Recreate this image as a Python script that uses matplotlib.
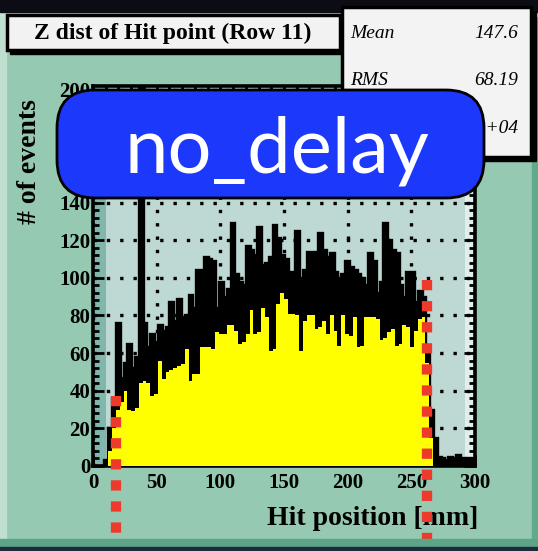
import matplotlib
matplotlib.use('Agg')
import matplotlib.pyplot as plt
import numpy as np
from matplotlib.patches import Rectangle, FancyBboxPatch

# 3 mm bins from 0 to 300 mm
bin_edges = np.linspace(0, 300, 101)

all_hits = [0, 0, 0, 3, 20, 36, 76, 47, 55, 65,
            52, 58, 300, 76, 63, 70, 66, 75, 72, 74,
            87, 77, 89, 79, 80, 91, 84, 104, 104, 111,
            110, 109, 84, 98, 90, 94, 129, 102, 98, 96,
            117, 115, 112, 127, 107, 108, 111, 128, 121, 112,
            110, 103, 100, 125, 100, 104, 114, 114, 110, 124,
            115, 111, 113, 103, 100, 102, 109, 106, 104, 102,
            100, 96, 113, 109, 92, 98, 129, 120, 115, 113,
            96, 90, 103, 103, 87, 93, 90, 62, 30, 15,
            5, 4, 3, 5, 4, 6, 4, 3, 4, 3]

selected_hits = [0, 0, 0, 0, 8, 20, 30, 34, 40, 30,
                 29, 31, 44, 45, 44, 37, 38, 56, 46, 50,
                 51, 52, 53, 54, 62, 45, 49, 49, 63, 63,
                 63, 62, 71, 70, 70, 75, 75, 72, 65, 66,
                 70, 83, 70, 71, 84, 79, 61, 62, 86, 92,
                 89, 81, 81, 80, 61, 77, 80, 80, 73, 74,
                 77, 70, 80, 72, 64, 80, 70, 69, 79, 63,
                 64, 79, 79, 79, 78, 67, 68, 71, 73, 64,
                 65, 75, 74, 63, 72, 78, 79, 55, 15, 0,
                 0, 0, 0, 0, 0, 0, 0, 0, 0, 0]

x_ticks = [0, 50, 100, 150, 200, 250, 300]
y_ticks = [0, 20, 40, 60, 80, 100, 120, 140, 160, 180, 200]

cut_positions = [18, 262.5]
cut_tops = [37, 99]

stats_names = ['Mean', 'RMS', 'Entries']
stats_values = ['147.6', '68.19', '1.803e+04']

title = 'Z dist of Hit point (Row 11)'
label_text = 'no_delay'

serif = 'Liberation Serif'

fig = plt.figure(figsize=(5.38, 5.51), dpi=100, facecolor='#95c9b1')
inch = fig.dpi_scale_trans

# pad bevel of the canvas
fig.patches.append(Rectangle((0, 0), 0.06, 5.51, transform=inch, color='#bfe0d0', zorder=0))
fig.patches.append(Rectangle((5.32, 0), 0.06, 5.51, transform=inch, color='#62aa8c', zorder=0))
fig.patches.append(Rectangle((0, 0.04), 5.38, 0.08, transform=inch, color='#5ea587', zorder=0))
fig.patches.append(Rectangle((0, 0), 5.38, 0.04, transform=inch, color='#1e2b3a', zorder=0))
fig.patches.append(Rectangle((0, 5.35), 5.38, 0.04, transform=inch, color='#c3e2d3', zorder=0))
fig.patches.append(Rectangle((0, 5.39), 5.38, 0.12, transform=inch, color='#0c0d14', zorder=0))

ax = fig.add_axes([0.1729, 0.1543, 0.710, 0.6897])
ax.set_facecolor('#bed8d4')

# frame bevel
ax.add_patch(Rectangle((0, 0), 0.035, 1, transform=ax.transAxes, color='#80b6ab', zorder=0.2, lw=0))
ax.add_patch(Rectangle((0.975, 0), 0.025, 1, transform=ax.transAxes, color='#e2eeec', zorder=0.2, lw=0))

ax.stairs(all_hits, bin_edges, fill=True, color='black', zorder=2)
ax.stairs(all_hits, bin_edges, color='black', lw=2.4, zorder=2.1)
ax.stairs(selected_hits, bin_edges, fill=True, color='#ffff00', zorder=3)

ax.set_xlim(0, 300)
ax.set_ylim(0, 202)
ax.set_xticks(x_ticks)
ax.set_yticks(y_ticks)
ax.set_xticks(np.arange(0, 301, 10), minor=True)
ax.set_yticks(np.arange(0, 201, 4), minor=True)
ax.set_axisbelow(True)
ax.grid(True, which='major', color='black', lw=2.4, linestyle=(0, (1, 3.0)), zorder=1)

ax.tick_params(which='both', direction='in', top=True, right=True, color='black', width=2)
ax.tick_params(which='major', length=8)
ax.tick_params(which='minor', length=4.5)
ax.tick_params(axis='x', pad=5)
ax.tick_params(axis='y', pad=2)
for lab in ax.get_xticklabels() + ax.get_yticklabels():
    lab.set_fontfamily(serif)
    lab.set_fontweight('bold')
    lab.set_fontsize(15)
for sp in ax.spines.values():
    sp.set_linewidth(2.6)

ax.set_xlabel('Hit position [mm]', fontfamily=serif, fontweight='bold', fontsize=20,
              ha='right', va='center')
ax.xaxis.set_label_coords(1.008, -0.137)

# cut markers, drawn from the top down so the dot pattern starts at the top
for xc, yt in zip(cut_positions, cut_tops):
    ax.plot([xc, xc], [yt, -46], color='#ee3a2b', lw=7.4, linestyle=(0, (1, 1.05)),
            solid_capstyle='butt', dash_capstyle='butt', clip_on=False, zorder=10)

fig.text(30 / 538, 1 - 162 / 551, '# of events', rotation=90, ha='center', va='center',
         fontfamily=serif, fontweight='bold', fontsize=20)

# title box
fig.patches.append(Rectangle((0.10, 4.97), 3.33, 0.35, transform=inch, color='black', zorder=1))
fig.patches.append(Rectangle((0.07, 5.01), 3.33, 0.35, transform=inch, facecolor='#f2f2f2',
                             edgecolor='black', lw=2.5, zorder=1.1))
fig.text(1.73, 5.18, title, transform=inch, ha='center', va='center',
         fontfamily=serif, fontweight='bold', fontsize=17, zorder=1.2)

# stats box
fig.patches.append(Rectangle((3.45, 3.90), 1.91, 1.50, transform=inch, color='black', zorder=1.3))
fig.patches.append(Rectangle((3.42, 3.94), 1.89, 1.50, transform=inch, facecolor='#f3f3f3',
                             edgecolor='black', lw=2.5, zorder=1.4))
for i, (name, val) in enumerate(zip(stats_names, stats_values)):
    yy = 5.18 - i * 0.475
    fig.text(3.50, yy, name, transform=inch, ha='left', va='center',
             fontfamily=serif, fontstyle='italic', fontsize=14, zorder=1.5)
    fig.text(5.18, yy, val, transform=inch, ha='right', va='center',
             fontfamily=serif, fontstyle='italic', fontsize=14, zorder=1.5)

# overlay label
fig.patches.append(FancyBboxPatch((0.57, 3.53), 4.27, 1.08, transform=inch,
                                  boxstyle='round,pad=0,rounding_size=0.38',
                                  facecolor='#1c38fb', edgecolor='black', lw=2, zorder=5))
fig.text(2.77, 3.78, label_text, transform=inch, ha='center', va='baseline',
         fontfamily='Lato', fontsize=56, color='white', zorder=6)

fig.savefig('out.png', dpi=100)
